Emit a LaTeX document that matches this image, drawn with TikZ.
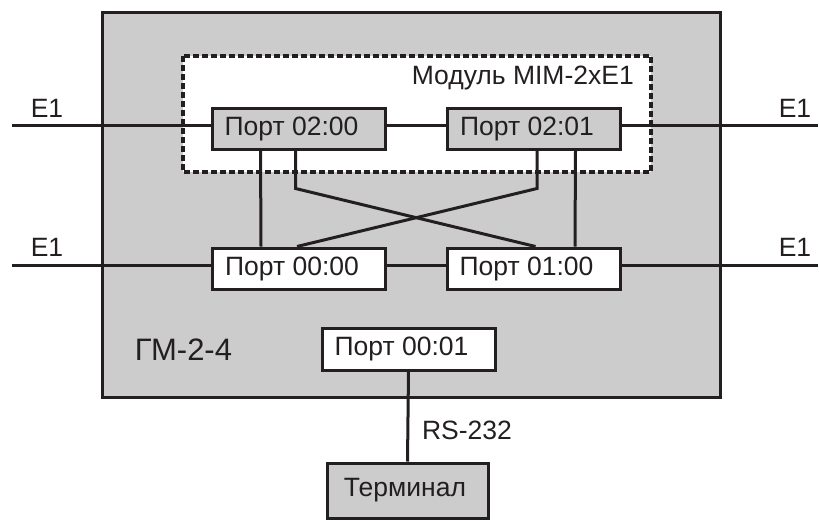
\documentclass[tikz,border=0pt]{standalone}
\usepackage{fontspec}
\setmainfont{Liberation Sans}
\usetikzlibrary{calc}
\definecolor{linec}{HTML}{231F20}
\definecolor{gm}{HTML}{CCCCCC}
\begin{document}
\begin{tikzpicture}[x=1pt,y=-1pt,
  ln/.style={line width=3pt, draw=linec},
  port/.style={draw=linec, line width=3pt, minimum width=173pt, minimum height=41pt, inner sep=0pt, text=linec, font=\fontsize{26.5}{30}\selectfont},
  gport/.style={port, fill=gm},
  wport/.style={port, fill=white},
  lbl/.style={inner sep=0pt, text=linec, font=\fontsize{26.5}{30}\selectfont},
  modbox/.style={draw=linec, line width=3.2pt, fill=white, dash pattern=on 6pt off 3pt}
]
\useasboundingbox (0,0) rectangle (819,520);
% main device
\draw[ln, fill=gm] (102,12) rectangle (720,397);
\draw[modbox] (183,56) rectangle (651,172);
\node[lbl, anchor=east] (modlbl) at (634,78) {Модуль MIM-2xE1};
\node[lbl, font=\fontsize{31}{35}\selectfont] (gmlbl) at (183.5,350) {ГМ-2-4};
% ports
\node[gport] (p0200) at (298.5,128.5) {Порт 02:00\hspace*{14pt}};
\node[gport] (p0201) at (534,128.5) {Порт 02:01\hspace*{14pt}};
\node[wport] (p0000) at (299,268.5) {Порт 00:00\hspace*{14pt}};
\node[wport] (p0100) at (533.5,268.5) {Порт 01:00\hspace*{14pt}};
\node[wport, minimum height=42pt] (p0001) at (408.5,349) {Порт 00:01\hspace*{14pt}};
\node[gport, minimum width=161pt, minimum height=55pt] (term) at (407.5,490.5) {\raisebox{-2pt}{Терминал}\hspace*{5pt}};
% external coordinates
\coordinate (l1) at (12,125);
\coordinate (r1) at (818,125);
\coordinate (l2) at (12,265);
\coordinate (r2) at (818,265);
% connectors
\draw[ln] (l1) -- ($(p0200.west)+(0,-3.5)$);
\draw[ln] ($(p0201.east)+(0,-3.5)$) -- (r1);
\draw[ln] (l2) -- ($(p0000.west)+(0,-3.5)$);
\draw[ln] ($(p0100.east)+(0,-3.5)$) -- (r2);
\draw[ln] ($(p0200.east)+(0,-3.5)$) -- ($(p0201.west)+(0,-3.5)$);
\draw[ln] ($(p0000.east)+(0,-3.5)$) -- ($(p0100.west)+(0,-3.5)$);
\draw[ln] ($(p0200.south west)+(50,0)$) -- ($(p0000.north west)+(50,0)$);
\draw[ln] ($(p0201.south west)+(129.5,0)$) -- ($(p0100.north west)+(129.5,0)$);
\draw[ln] ($(p0200.south west)+(85,0)$) -- ++(0,38) -- ($(p0100.north west)+(90,0)$);
\draw[ln] ($(p0201.south west)+(91,0)$) -- ++(0,38) -- ($(p0000.north west)+(86,0)$);
\draw[ln] (p0001.south) -- (term.north);
\node[lbl] (rs) at (467,430) {RS-232};
% E1 labels
\node[lbl] (e1a) at (47,108) {E1};
\node[lbl] (e1b) at (795,108) {E1};
\node[lbl] (e1c) at (47,247) {E1};
\node[lbl] (e1d) at (795,247) {E1};
% redraw ports on top of lines
\node[gport] at (p0200) {Порт 02:00\hspace*{14pt}};
\node[gport] at (p0201) {Порт 02:01\hspace*{14pt}};
\node[wport] at (p0000) {Порт 00:00\hspace*{14pt}};
\node[wport] at (p0100) {Порт 01:00\hspace*{14pt}};
\end{tikzpicture}
\end{document}
